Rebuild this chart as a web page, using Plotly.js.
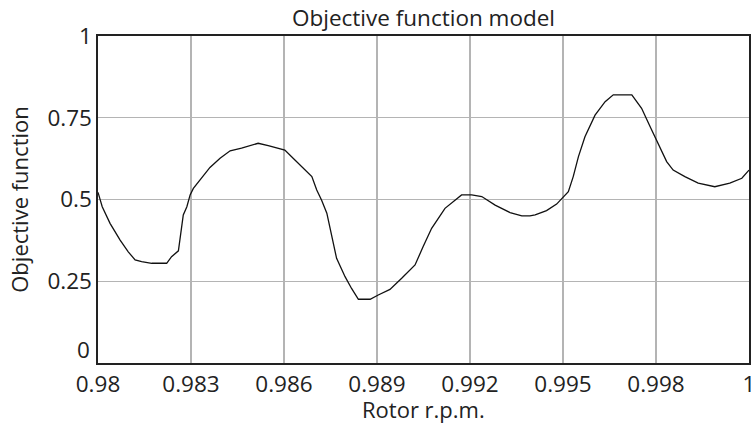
<!DOCTYPE html>
<html>
<head>
<meta charset="utf-8">
<script src="https://cdn.plot.ly/plotly-3.0.1.min.js"></script>
<style>html,body{margin:0;padding:0;background:#fff;}#chart{width:751px;height:423px;}</style>
</head>
<body>
<div id="chart"></div>
<script>
const rpm = [0.98000,0.98013,0.98037,0.98068,0.98093,0.98114,0.98134,0.98165,0.98211,0.98226,0.98247,0.98255,0.98262,0.98273,0.98283,0.98293,0.98319,0.98344,0.98375,0.98406,0.98441,0.98492,0.98523,0.98574,0.98605,0.98636,0.98657,0.98672,0.98687,0.98703,0.98718,0.98733,0.98759,0.98779,0.98800,0.98836,0.98861,0.98897,0.98933,0.98974,0.98999,0.99025,0.99066,0.99092,0.99117,0.99148,0.99179,0.99220,0.99266,0.99302,0.99327,0.99343,0.99378,0.99409,0.99445,0.99460,0.99476,0.99496,0.99527,0.99558,0.99583,0.99640,0.99670,0.99696,0.99727,0.99747,0.99767,0.99803,0.99844,0.99895,0.99941,0.99978,1.00000];
const objective = [0.522,0.478,0.427,0.376,0.340,0.315,0.310,0.305,0.305,0.325,0.343,0.407,0.453,0.478,0.514,0.534,0.565,0.598,0.626,0.649,0.657,0.672,0.665,0.651,0.621,0.590,0.570,0.529,0.498,0.458,0.386,0.320,0.264,0.228,0.195,0.195,0.208,0.225,0.259,0.300,0.356,0.412,0.473,0.493,0.514,0.514,0.509,0.483,0.460,0.450,0.450,0.453,0.466,0.486,0.524,0.570,0.631,0.692,0.758,0.799,0.820,0.820,0.779,0.723,0.661,0.616,0.590,0.570,0.550,0.539,0.550,0.565,0.590];
const xTickText = ["0.98","0.983","0.986","0.989","0.992","0.995","0.998","1"];
const yTickVals = [0,0.25,0.5,0.75,1];
const yTickText = ["0","0.25","0.5","0.75","1"];
const xTitle = "Rotor r.p.m.";
const yTitle = "Objective function";
const chartTitle = "Objective function model";
const xMin = 0.98, xMax = 1.0;
const xTickVals = xTickText.map((t,i)=> parseFloat((xMin + i*(xMax-xMin)/(xTickText.length-1)).toFixed(10)));

const font = "Open Sans, Noto Sans, sans-serif";
const tickSize = 22.5;
const trace = {x: rpm, y: objective, type: 'scatter', mode: 'lines', line: {color: '#111', width: 1.3}, hoverinfo: 'skip'};
// The bottom y label "0" sits just above the axis (as in the reference), so it is drawn as an annotation
const yTickTextShown = yTickText.map((t,i)=> yTickVals[i] === 0 ? '' : t);
const layout = {
  width: 751, height: 423,
  margin: {l: 98, r: 2, t: 36, b: 60},
  paper_bgcolor: '#fff', plot_bgcolor: '#fff',
  showlegend: false,
  title: {text: chartTitle, font: {family: font, size: tickSize, color: '#222'}, x: 0.5, xref: 'paper', y: 1 - 18/423, yanchor: 'middle'},
  xaxis: {range: [xMin, xMax], tickvals: xTickVals, ticktext: xTickText, showgrid: true, gridcolor: '#b4b4b4', gridwidth: 1.3,
    showline: true, mirror: true, linecolor: '#222', linewidth: 1.6, ticks: '', zeroline: false, automargin: false,
    ticklabeloverflow: 'allow',
    tickfont: {family: font, size: tickSize, color: '#222'}},
  yaxis: {range: [0, 1], tickvals: yTickVals, ticktext: yTickTextShown, showgrid: true, gridcolor: '#b4b4b4', gridwidth: 1.3,
    showline: true, mirror: true, linecolor: '#222', linewidth: 1.6, ticks: '', zeroline: false, automargin: false,
    tickfont: {family: font, size: tickSize, color: '#222'},
    title: {text: yTitle, font: {family: font, size: 22, color: '#222'}, standoff: 12}},
  annotations: [
    {text: yTickText[0], x: 0, xref: 'paper', xanchor: 'right', xshift: -6, y: yTickVals[0], yref: 'y', yanchor: 'bottom', yshift: -4,
      showarrow: false, font: {family: font, size: tickSize, color: '#222'}},
    {text: xTitle, x: 0.5, xref: 'paper', xanchor: 'center', y: 0, yref: 'paper', yanchor: 'middle', yshift: -46, borderpad: 0,
      showarrow: false, font: {family: font, size: 22, color: '#222'}}
  ]
};
Plotly.newPlot('chart', [trace], layout, {displayModeBar: false, staticPlot: true});
</script>
</body>
</html>
